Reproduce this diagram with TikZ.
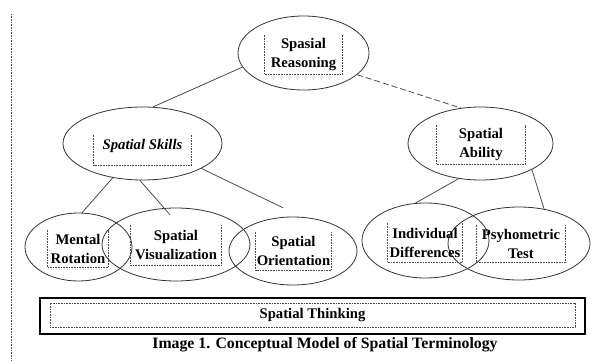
\documentclass[tikz,border=0pt]{standalone}
\usepackage{fontspec}
\setmainfont{Liberation Serif}
\usetikzlibrary{shapes.geometric}

\begin{document}
\begin{tikzpicture}[
    x = 1pt, y = -1pt,
    line width = 0.8pt,
    concept/.style = {ellipse,
      draw = black!80,
      inner sep = 0pt},
    tbox/.style = {inner sep = 0pt,
      align = center,
      font = \fontsize{14.7}{19}\selectfont\bfseries},
    dotbox/.style = {draw = black!70, line width = 0.6pt,
      dash pattern = on 0.8pt off 0.8pt},
    link/.style = {draw = black!70}
    ]
    \useasboundingbox (0, 0) rectangle (592, 361);
    \draw [dotbox] (11, 14) -- (11, 361);

    \node at (303.5, 53) [concept, minimum width = 131pt, minimum height = 74pt, name = reason] {};
    \node at (142.5, 143.5) [concept, minimum width = 159pt, minimum height = 73pt, name = skills] {};
    \node at (480.5, 143.5) [concept, minimum width = 145pt, minimum height = 73pt, name = ability] {};
    \node at (78.5, 247) [concept, minimum width = 107pt, minimum height = 68pt, name = mental] {};
    \node at (176, 244.5) [concept, minimum width = 148pt, minimum height = 73pt, name = visual] {};
    \node at (293, 251) [concept, minimum width = 128pt, minimum height = 68pt, name = orient] {};
    \node at (425.5, 240.5) [concept, minimum width = 127pt, minimum height = 75pt, name = indiv] {};
    \node at (519, 243.5) [concept, minimum width = 142pt, minimum height = 73pt, name = psycho] {};

    \node at (303.5, 54.5) [tbox, minimum width = 77pt, minimum height = 39pt, name = reasontxt] {Spasial\\Reasoning};
    \node at (142.5, 150) [tbox, minimum width = 97pt, minimum height = 30pt, text depth = 12pt, name = skillstxt] {\itshape Spatial Skills};
    \node at (481, 144.5) [tbox, minimum width = 88pt, minimum height = 39pt, name = abilitytxt] {Spatial\\Ability};
    \node at (78, 248.5) [tbox, minimum width = 60pt, minimum height = 37pt, name = mentaltxt] {Mental\\Rotation};
    \node at (176, 245) [tbox, minimum width = 90pt, minimum height = 40pt, name = visualtxt] {Spatial\\Visualization};
    \node at (293.5, 251) [tbox, minimum width = 75pt, minimum height = 38pt, name = orienttxt] {Spatial\\Orientation};
    \node at (425, 242.5) [tbox, minimum width = 74pt, minimum height = 39pt, name = indivtxt] {Individual\\Differences};
    \node at (521, 243.5) [tbox, minimum width = 88pt, minimum height = 37pt, name = psychotxt] {Psyhometric\\Test};

    \draw [dotbox] (reasontxt.north west) |- (reasontxt.south east) -- (reasontxt.north east);
    \draw [dotbox] (skillstxt.north west) |- (skillstxt.south east) -- (skillstxt.north east);
    \draw [dotbox] (abilitytxt.north west) |- (abilitytxt.south east) -- (abilitytxt.north east);
    \draw [dotbox] (mentaltxt.north west) |- (mentaltxt.south east) -- (mentaltxt.north east);
    \draw [dotbox] (visualtxt.north west) |- (visualtxt.south east) -- (visualtxt.north east);
    \draw [dotbox] (orienttxt.north west) |- (orienttxt.south east) -- (orienttxt.north east);
    \draw [dotbox] (indivtxt.north west) |- (indivtxt.south east) -- (indivtxt.north east);
    \draw [dotbox] (psychotxt.north west) |- (psychotxt.south east) -- (psychotxt.north east);

    \draw [link] (reason.193.7) -- (skills.74);
    \draw [link, dash pattern = on 6pt off 3pt] (reason.338) -- (ability.119);
    \draw [link] (skills.229) -- (mental.84);
    \draw [link, shorten >= -9pt] (skills.266) -- (visual.108);
    \draw [link, shorten >= 21pt] (skills.337.6) -- (orient.75);
    \draw [link] (ability.238) -- (indiv.105);
    \draw [link] (ability.333) -- (psycho.54);

    \node at (312.5, 316) [draw, line width = 1.2pt, minimum width = 545pt, minimum height = 36pt, name = thinking] {};
    \node at (312.5, 315) [tbox, dotbox, minimum width = 525pt, minimum height = 24pt, name = thinkingtxt] {Spatial Thinking};

    \node at (325, 348.5) [anchor = base, font = \fontsize{15.8}{18}\selectfont\bfseries, name = caption] {Image 1. Conceptual Model of Spatial Terminology};
  \end{tikzpicture}
\end{document}
